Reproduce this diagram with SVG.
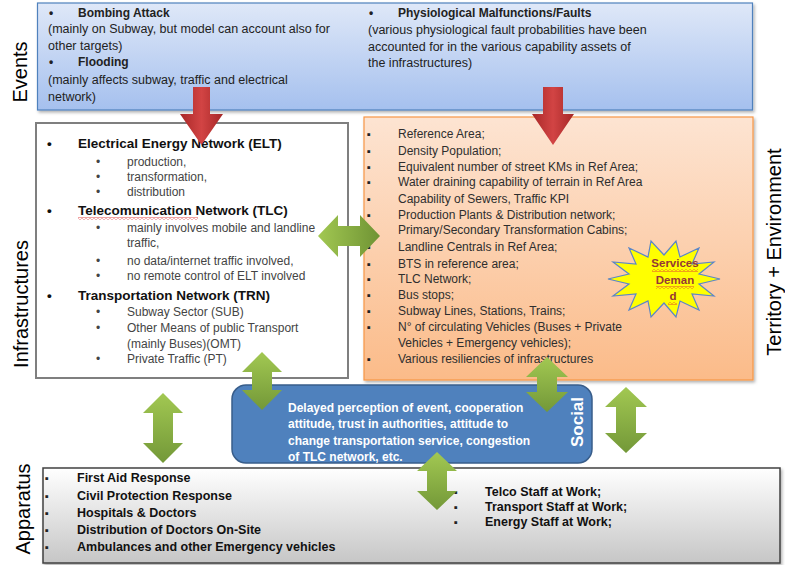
<svg xmlns="http://www.w3.org/2000/svg" width="785" height="565" viewBox="0 0 785 565">
  <defs>
    <linearGradient id="gEvents" x1="0" y1="0" x2="0" y2="1">
      <stop offset="0" stop-color="#dfe8f8"/>
      <stop offset="1" stop-color="#a5c0ee"/>
    </linearGradient>
    <linearGradient id="gTerritory" x1="0" y1="0" x2="0" y2="1">
      <stop offset="0" stop-color="#fde4d2"/>
      <stop offset="1" stop-color="#fbbb89"/>
    </linearGradient>
    <linearGradient id="gApparatus" x1="0" y1="0" x2="0" y2="1">
      <stop offset="0" stop-color="#ffffff"/>
      <stop offset="1" stop-color="#c6c6c6"/>
    </linearGradient>
    <linearGradient id="gRed" x1="0" y1="0" x2="1" y2="0">
      <stop offset="0" stop-color="#a92828"/>
      <stop offset="0.5" stop-color="#d24444"/>
      <stop offset="1" stop-color="#a52727"/>
    </linearGradient>
    <linearGradient id="gGreenV" x1="0" y1="0" x2="0" y2="1">
      <stop offset="0" stop-color="#a2c852"/>
      <stop offset="1" stop-color="#739838"/>
    </linearGradient>
    <linearGradient id="gGreenH" x1="0" y1="0" x2="1" y2="0">
      <stop offset="0" stop-color="#a2c852"/>
      <stop offset="1" stop-color="#6f9334"/>
    </linearGradient>
    <pattern id="wave" width="4" height="3" patternUnits="userSpaceOnUse">
      <path d="M0,0.6 L2,2.4 L4,0.6" fill="none" stroke="#e03030" stroke-width="0.8"/>
    </pattern>
    <filter id="shadow" x="-5%" y="-5%" width="110%" height="115%">
      <feDropShadow dx="1.5" dy="2" stdDeviation="1.5" flood-color="#000" flood-opacity="0.3"/>
    </filter>
  </defs>
  <style>
    text { font-family: "Liberation Sans", Arial, sans-serif; }
    .side { font-size: 20px; fill: #000; text-anchor: middle; }
    .ev { font-size: 12.5px; fill: #222; }
    .evb { font-size: 12px; font-weight: bold; fill: #222; }
    .h { font-size: 13.5px; font-weight: bold; fill: #111; }
    .sub { font-size: 12px; fill: #444; }
    .ter { font-size: 12px; fill: #2e2e2e; }
    .soc { font-size: 12px; font-weight: bold; fill: #fff; }
    .app { font-size: 12.5px; font-weight: bold; fill: #111; }
    .sq { font-family: "DejaVu Sans", sans-serif; font-size: 11px; fill: #222; }
    .burst { font-size: 11.5px; font-weight: bold; fill: #953735; text-anchor: middle; }
    .red { fill: url(#gRed); }
    .gv { fill: url(#gGreenV); }
    .gh { fill: url(#gGreenH); }
  </style>

  <rect width="785" height="565" fill="#ffffff"/>

  <!-- side labels -->
  <g id="side-labels">
    <text class="side" transform="translate(27,72) rotate(-90)">Events</text>
    <text class="side" transform="translate(28,304) rotate(-90)">Infrastructures</text>
    <text class="side" transform="translate(781,252) rotate(-90)">Territory + Environment</text>
    <text class="side" transform="translate(30,509) rotate(-90)">Apparatus</text>
  </g>

  <!-- Events -->
  <g id="events">
    <rect x="37.5" y="3" width="715" height="107" fill="url(#gEvents)" stroke="#4f81bd" stroke-width="1.2" filter="url(#shadow)"/>
    <text class="evb" x="49" y="17">•</text>
    <text class="evb" x="78" y="17">Bombing Attack</text>
    <text class="ev" x="48" y="33">(mainly on Subway, but model can account also for</text>
    <text class="ev" x="48" y="50">other targets)</text>
    <text class="evb" x="49" y="66">•</text>
    <text class="evb" x="78" y="66">Flooding</text>
    <text class="ev" x="48" y="84">(mainly affects subway, traffic and electrical</text>
    <text class="ev" x="48" y="101">network)</text>
    <text class="evb" x="369" y="17">•</text>
    <text class="evb" x="398" y="17">Physiological Malfunctions/Faults</text>
    <text class="ev" x="368" y="34">(various physiological fault probabilities have been</text>
    <text class="ev" x="368" y="51">accounted for in the various capability assets of</text>
    <text class="ev" x="368" y="67">the infrastructures)</text>
  </g>

  <!-- Infrastructures -->
  <g id="infrastructures">
    <rect x="36" y="123" width="312" height="255" fill="#ffffff" stroke="#7f7f7f" stroke-width="2"/>
    <text class="h" x="47" y="148">•</text>
    <text class="h" x="78" y="148">Electrical Energy Network (ELT)</text>
    <text class="sub" x="96" y="166">•</text>
    <text class="sub" x="127" y="166">production,</text>
    <text class="sub" x="96" y="181">•</text>
    <text class="sub" x="127" y="181">transformation,</text>
    <text class="sub" x="96" y="196">•</text>
    <text class="sub" x="127" y="196">distribution</text>
    <text class="h" x="47" y="215">•</text>
    <text class="h" x="78" y="215">Telecomunication Network (TLC)</text>
    <rect x="78" y="217" width="120" height="3" fill="url(#wave)"/>
    <text class="sub" x="96" y="232">•</text>
    <text class="sub" x="127" y="232">mainly involves mobile and landline</text>
    <text class="sub" x="127" y="247">traffic,</text>
    <text class="sub" x="96" y="265">•</text>
    <text class="sub" x="127" y="265">no data/internet traffic involved,</text>
    <text class="sub" x="96" y="280">•</text>
    <text class="sub" x="127" y="280">no remote control of ELT involved</text>
    <text class="h" x="47" y="300">•</text>
    <text class="h" x="78" y="300">Transportation Network (TRN)</text>
    <text class="sub" x="96" y="316">•</text>
    <text class="sub" x="127" y="316">Subway Sector (SUB)</text>
    <text class="sub" x="96" y="332">•</text>
    <text class="sub" x="127" y="332">Other Means of public Transport</text>
    <text class="sub" x="127" y="348">(mainly Buses)(OMT)</text>
    <text class="sub" x="96" y="363">•</text>
    <text class="sub" x="127" y="363">Private Traffic (PT)</text>
  </g>

  <!-- Territory + Environment -->
  <g id="territory">
    <rect x="364" y="117" width="389" height="263" fill="url(#gTerritory)" stroke="#f79646" stroke-width="1.2" filter="url(#shadow)"/>
    <g class="sq">
      <text x="367" y="138">▪</text>
      <text x="367" y="155">▪</text>
      <text x="367" y="171">▪</text>
      <text x="367" y="186">▪</text>
      <text x="367" y="203">▪</text>
      <text x="367" y="219">▪</text>
      <text x="367" y="251">▪</text>
      <text x="367" y="268">▪</text>
      <text x="367" y="283">▪</text>
      <text x="367" y="299">▪</text>
      <text x="367" y="315">▪</text>
      <text x="367" y="331">▪</text>
      <text x="367" y="363">▪</text>
    </g>
    <text class="ter" x="398" y="138">Reference Area;</text>
    <text class="ter" x="398" y="155">Density Population;</text>
    <text class="ter" x="398" y="171">Equivalent number of street KMs in Ref Area;</text>
    <text class="ter" x="398" y="186">Water draining capability of terrain in Ref Area</text>
    <text class="ter" x="398" y="203">Capability of Sewers, Traffic KPI</text>
    <text class="ter" x="398" y="219">Production Plants &amp; Distribution network;</text>
    <text class="ter" x="398" y="234">Primary/Secondary Transformation Cabins;</text>
    <text class="ter" x="398" y="251">Landline Centrals in Ref Area;</text>
    <text class="ter" x="398" y="268">BTS in reference area;</text>
    <text class="ter" x="398" y="283">TLC Network;</text>
    <text class="ter" x="398" y="299">Bus stops;</text>
    <text class="ter" x="398" y="315">Subway Lines, Stations, Trains;</text>
    <text class="ter" x="398" y="331">N° of circulating Vehicles (Buses + Private</text>
    <text class="ter" x="398" y="347">Vehicles + Emergency vehicles);</text>
    <text class="ter" x="398" y="363">Various resiliencies of infrastructures</text>
  </g>

  <!-- Services Demand starburst -->
  <g id="services-demand">
    <polygon points="720,279 699,274 714,262 692,264 699,248 680,257 676,241 664,255 651,241 648,257 629,248 636,264 613,262 629,274 608,279 629,284 613,296 636,294 629,310 648,301 651,317 664,303 676,317 680,301 699,310 692,294 714,296 699,284" fill="#ffff00" stroke="#5b86c8" stroke-width="1.2" stroke-linejoin="miter"/>
    <text class="burst" x="675" y="267">Services</text>
    <rect x="652" y="269" width="46" height="3" fill="url(#wave)"/>
    <text class="burst" x="675" y="284">Deman</text>
    <rect x="656" y="286" width="38" height="3" fill="url(#wave)"/>
    <text class="burst" x="673" y="300">d</text>
    <rect x="668" y="302" width="9" height="3" fill="url(#wave)"/>
  </g>

  <!-- Social -->
  <g id="social">
    <rect x="232" y="385" width="360" height="78" rx="14" ry="14" fill="#4f81bd" stroke="#385d8a" stroke-width="1.5"/>
    <text class="soc" x="288" y="412">Delayed perception of event, cooperation</text>
    <text class="soc" x="288" y="428">attitude, trust in authorities, attitude to</text>
    <text class="soc" x="288" y="445">change transportation service, congestion</text>
    <text class="soc" x="288" y="461">of TLC network, etc.</text>
    <text class="soc" style="font-size:17px" text-anchor="middle" transform="translate(583,422) rotate(-90)">Social</text>
  </g>

  <!-- Apparatus -->
  <g id="apparatus">
    <rect x="43" y="468" width="737" height="95" fill="url(#gApparatus)" stroke="#404040" stroke-width="1.5" filter="url(#shadow)"/>
    <g class="sq">
      <text x="45" y="482">▪</text>
      <text x="45" y="500">▪</text>
      <text x="45" y="517">▪</text>
      <text x="45" y="534">▪</text>
      <text x="45" y="551">▪</text>
      <text x="454" y="496">▪</text>
      <text x="454" y="511">▪</text>
      <text x="454" y="526">▪</text>
    </g>
    <text class="app" x="77" y="482">First Aid Response</text>
    <text class="app" x="77" y="500">Civil Protection Response</text>
    <text class="app" x="77" y="517">Hospitals &amp; Doctors</text>
    <text class="app" x="77" y="534">Distribution of Doctors On-Site</text>
    <text class="app" x="77" y="551">Ambulances and other Emergency vehicles</text>
    <text class="app" x="485" y="496">Telco Staff at Work;</text>
    <text class="app" x="485" y="511">Transport Staff at Work;</text>
    <text class="app" x="485" y="526">Energy Staff at Work;</text>
  </g>

  <!-- connectors -->
  <g id="connectors">
    <!-- events to infrastructures / territory -->
    <path class="red" d="M193,87 H210 V114 H223 L201.5,145 L180,114 H193 Z"/>
    <path class="red" d="M543,87 H563 V114 H574 L553,145 L532,114 H543 Z"/>
    <!-- infrastructures <-> territory -->
    <path class="gh" d="M318,236 L338,215 V226 H360 V215 L380,236 L360,257 V246 H338 V257 Z"/>
    <!-- infrastructures <-> social -->
    <path class="gv" d="M262,352 L282,372 H272 V390 H282 L262,410 L242,390 H252 V372 H242 Z"/>
    <!-- infrastructures <-> apparatus -->
    <path class="gv" d="M163,393 L183,413 H173 V443 H183 L163,463 L143,443 H153 V413 H143 Z"/>
    <!-- territory <-> social -->
    <path class="gv" d="M547,357 L568,377 H557 V392 H568 L547,412 L526,392 H537 V377 H526 Z"/>
    <!-- territory <-> apparatus -->
    <path class="gv" d="M626,387 L647,407 H636 V433 H647 L626,453 L605,433 H616 V407 H605 Z"/>
    <!-- social <-> apparatus -->
    <path class="gv" d="M437,452 L457,471 H447 V491 H457 L437,510 L417,491 H427 V471 H417 Z"/>
  </g>
</svg>
